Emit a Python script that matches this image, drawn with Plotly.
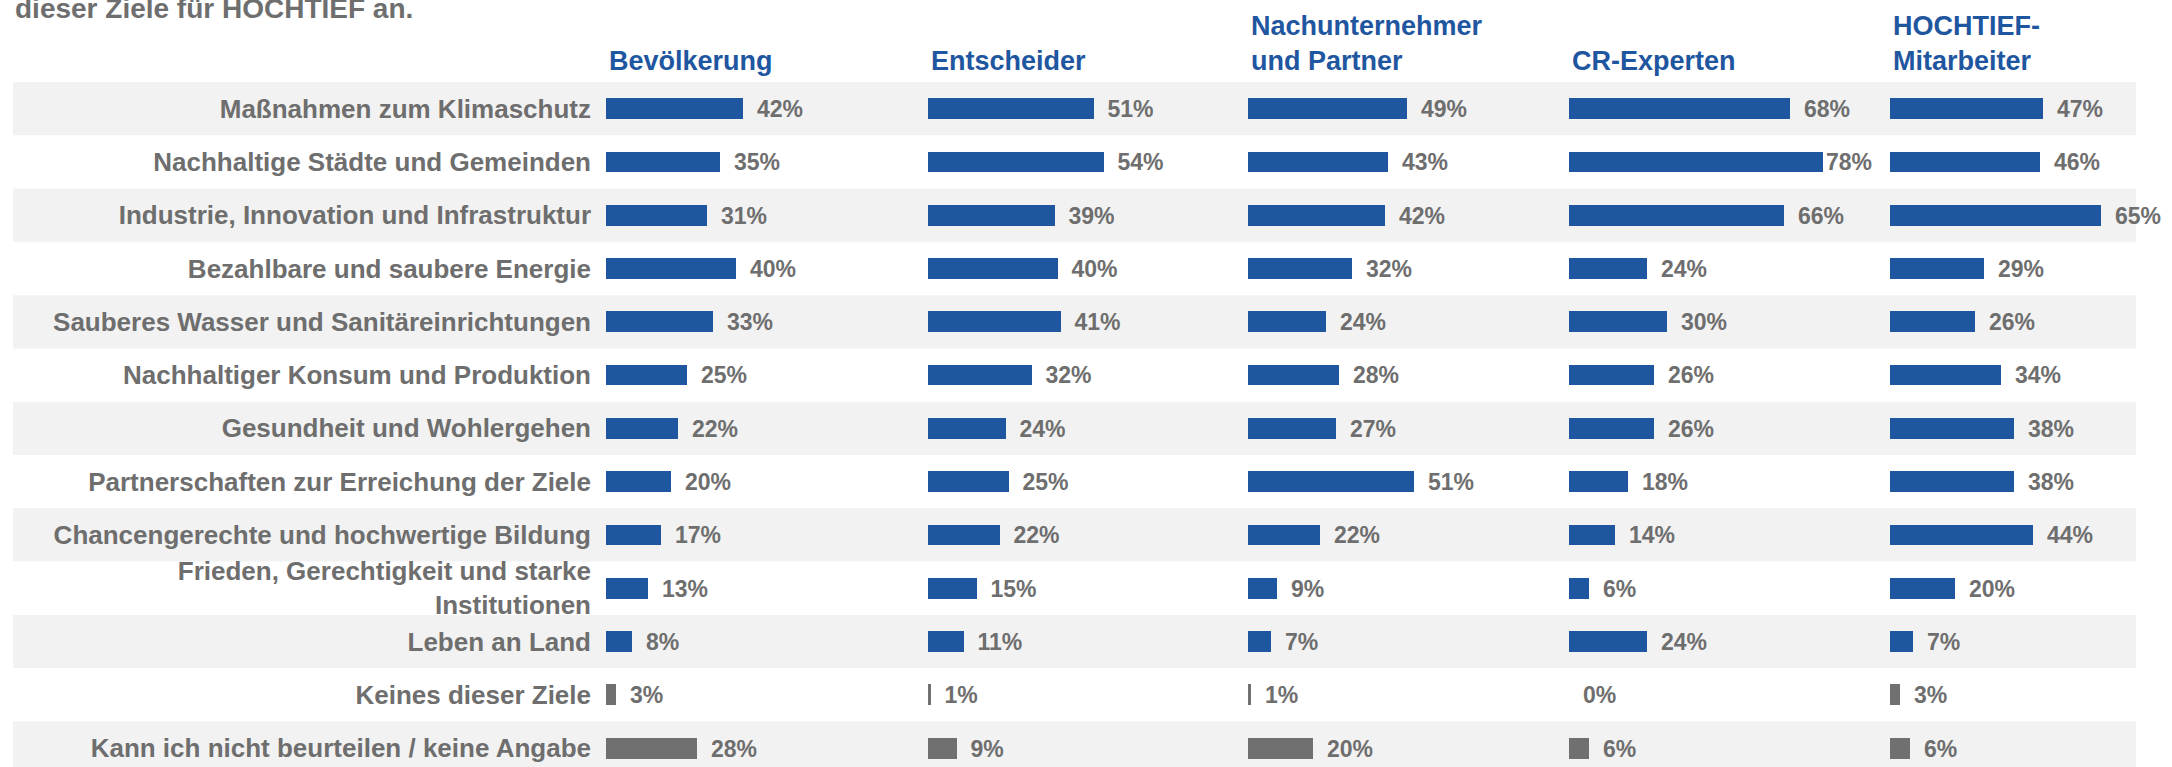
import plotly.graph_objects as go

# ---------------- data ----------------
categories = [
    "Maßnahmen zum Klimaschutz",
    "Nachhaltige Städte und Gemeinden",
    "Industrie, Innovation und Infrastruktur",
    "Bezahlbare und saubere Energie",
    "Sauberes Wasser und Sanitäreinrichtungen",
    "Nachhaltiger Konsum und Produktion",
    "Gesundheit und Wohlergehen",
    "Partnerschaften zur Erreichung der Ziele",
    "Chancengerechte und hochwertige Bildung",
    "Frieden, Gerechtigkeit und starke<br>Institutionen",
    "Leben an Land",
    "Keines dieser Ziele",
    "Kann ich nicht beurteilen / keine Angabe",
]
group_titles = [
    "Bevölkerung",
    "Entscheider",
    "Nachunternehmer<br>und Partner",
    "CR-Experten",
    "HOCHTIEF-<br>Mitarbeiter",
]
bevoelkerung = [42, 35, 31, 40, 33, 25, 22, 20, 17, 13, 8, 3, 28]
entscheider = [51, 54, 39, 40, 41, 32, 24, 25, 22, 15, 11, 1, 9]
nachunternehmer = [49, 43, 42, 32, 24, 28, 27, 51, 22, 9, 7, 1, 20]
cr_experten = [68, 78, 66, 24, 30, 26, 26, 18, 14, 6, 24, 0, 6]
hochtief = [47, 46, 65, 29, 26, 34, 38, 38, 44, 20, 7, 3, 6]
title_line = "dieser Ziele für HOCHTIEF an."

series = [bevoelkerung, entscheider, nachunternehmer, cr_experten, hochtief]

# ---------------- style / layout ----------------
W, H = 2172, 767
TOP = 81.85
BOTTOM = 0
PLOT_H = H - TOP - BOTTOM
ROW_PX = 53.3
col_starts = [606, 927.5, 1248, 1569, 1890]
col_width_px = 266
PX_PER_PCT = 3.25
BLUE = "#1F56A0"
GRAY_BAR = "#707070"
TEXT_GRAY = "#6E6E6E"
BAND = "#F2F2F2"
FONT = "Liberation Sans"
LABEL_SIZE = 23
n_blue = 11  # goal rows in blue, remaining rows in gray

n = len(categories)
y_bottom = -0.5 + PLOT_H / ROW_PX
xmax = col_width_px / PX_PER_PCT


def fx(px):
    return px / W


def fy(px):
    return (H - BOTTOM - px) / PLOT_H


fig = go.Figure()

for k, vals in enumerate(series):
    ax = "x" if k == 0 else f"x{k+1}"
    start = col_starts[k]
    limit = (col_starts[k + 1] - 19) if k + 1 < len(col_starts) else W
    texts = []
    for v in vals:
        lbl_w = 0.556 * LABEL_SIZE * len(str(v)) + 0.889 * LABEL_SIZE
        end = start + v * PX_PER_PCT + 14 + lbl_w
        pad = "" if end > limit else "\u00a0\u2009"
        texts.append(f"{pad}{v}%")
    colors = [BLUE if i < n_blue else GRAY_BAR for i in range(n)]
    fig.add_trace(go.Bar(
        x=vals, y=categories, orientation="h",
        xaxis=ax, yaxis="y",
        marker=dict(color=colors, line=dict(width=0)),
        width=0.39,
        text=texts, textposition="outside",
        textfont=dict(family=FONT, size=LABEL_SIZE, color=TEXT_GRAY, weight="bold"),
        constraintext="none", cliponaxis=False,
        showlegend=False, hoverinfo="skip",
    ))

layout = dict(
    width=W, height=H,
    margin=dict(l=0, r=0, t=TOP, b=BOTTOM, pad=0),
    paper_bgcolor="white", plot_bgcolor="rgba(0,0,0,0)",
    font=dict(family=FONT, color=TEXT_GRAY),
    bargap=0,
    yaxis=dict(
        type="category", categoryorder="array", categoryarray=categories,
        range=[y_bottom, -0.5], anchor="x",
        showgrid=False, zeroline=False, showline=False, ticks="",
        ticklabelstandoff=14,
        tickfont=dict(family=FONT, size=26, color=TEXT_GRAY, weight="bold"),
    ),
)
for k in range(len(series)):
    key = "xaxis" if k == 0 else f"xaxis{k+1}"
    s = col_starts[k]
    layout[key] = dict(
        domain=[fx(s), fx(s + col_width_px)], range=[0, xmax],
        anchor="y", visible=False, showgrid=False, zeroline=False, fixedrange=True,
    )
fig.update_layout(**layout)

# alternating background bands
for i in range(0, n, 2):
    fig.add_shape(type="rect", xref="paper", yref="y",
                  x0=fx(13), x1=fx(2136), y0=i - 0.5, y1=i + 0.5,
                  fillcolor=BAND, line=dict(width=0), layer="below")

# column headers
for k, t in enumerate(group_titles):
    fig.add_annotation(
        text=t, xref="paper", yref="paper",
        x=fx(col_starts[k] + 1), y=fy(78.3),
        xanchor="left", yanchor="bottom", align="left", showarrow=False,
        font=dict(family=FONT, size=27, color=BLUE, weight="bold"),
    )

# partially visible title line (cut at the top edge as in the source)
fig.add_annotation(
    text=title_line, xref="paper", yref="paper",
    x=fx(13), y=fy(25.5), xanchor="left", yanchor="bottom",
    align="left", showarrow=False,
    font=dict(family=FONT, size=28, color=TEXT_GRAY, weight="bold"),
)

fig.write_html("out.html", config={"displayModeBar": False},
               post_script="document.body.style.margin='0';")
